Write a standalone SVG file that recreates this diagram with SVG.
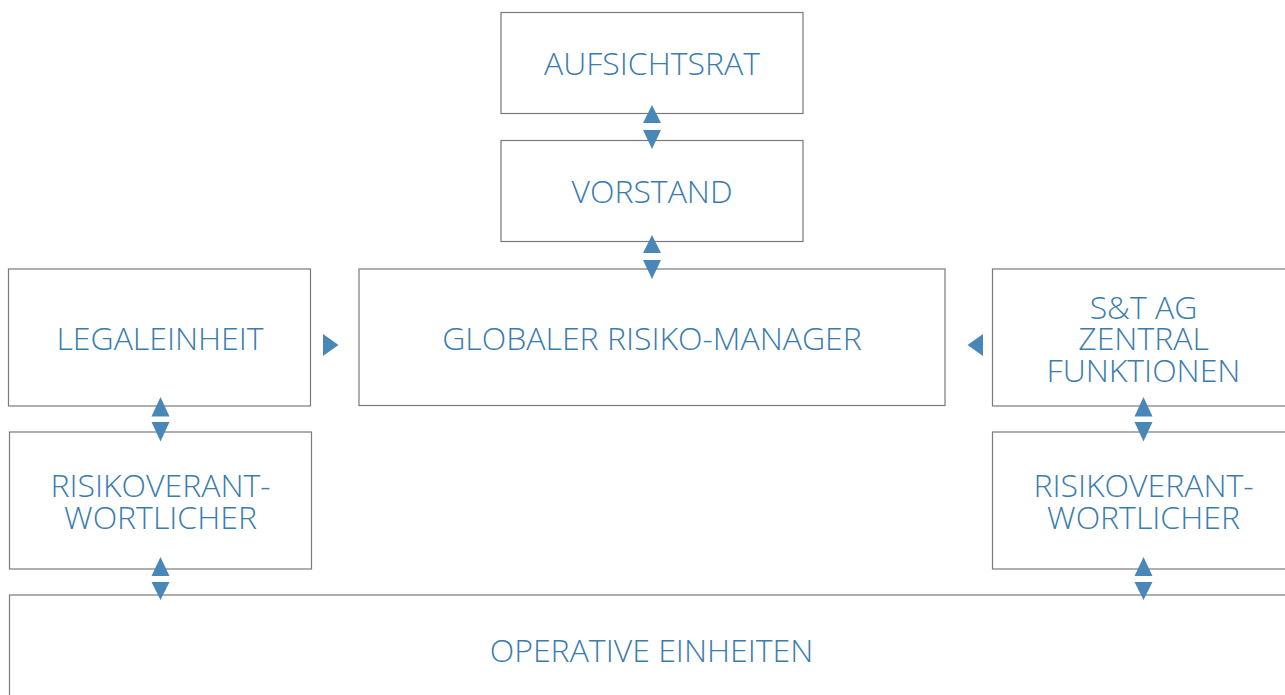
<svg xmlns="http://www.w3.org/2000/svg" width="1285" height="695" viewBox="0 0 1285 695">
<style>
.box{fill:#fff;stroke:#7a7a7a;stroke-width:1.2}
.t{font-family:"Open Sans","Liberation Sans",sans-serif;font-weight:300;font-size:32px;fill:#3a7cae;text-anchor:middle}
.a{fill:#4a87b9}
</style>
<rect width="1285" height="695" fill="#fff"/>
<g id="aufsichtsrat"><rect class="box" x="501" y="12.5" width="302" height="101"/><text class="t" x="652" y="75">AUFSICHTSRAT</text></g>
<g id="vorstand"><rect class="box" x="501" y="140.5" width="302" height="101"/><text class="t" x="652" y="202.5">VORSTAND</text></g>
<g id="global"><rect class="box" x="359" y="269" width="586" height="136.5"/><text class="t" x="652" y="350">GLOBALER RISIKO-MANAGER</text></g>
<g id="legaleinheit"><rect class="box" x="8.5" y="269" width="302" height="137"/><text class="t" x="160" y="350">LEGALEINHEIT</text></g>
<g id="zentral"><rect class="box" x="992.5" y="269" width="300" height="137"/><text class="t" x="1143.5" y="318.5">S&amp;T AG</text><text class="t" x="1143.5" y="350">ZENTRAL</text><text class="t" x="1143.5" y="381.5">FUNKTIONEN</text></g>
<g id="risiko-left"><rect class="box" x="9.5" y="432" width="302" height="137"/><text class="t" x="160.5" y="496.5">RISIKOVERANT-</text><text class="t" x="160.5" y="529">WORTLICHER</text></g>
<g id="risiko-right"><rect class="box" x="992.5" y="432" width="300" height="137"/><text class="t" x="1143.5" y="496.5">RISIKOVERANT-</text><text class="t" x="1143.5" y="529">WORTLICHER</text></g>
<g id="operative"><rect class="box" x="9.5" y="595" width="1290" height="110"/><text class="t" x="651.5" y="662">OPERATIVE EINHEITEN</text></g>
<g id="connectors">
<polygon class="a" points="652,105 661,123 643,123"/><polygon class="a" points="643,130 661,130 652,149"/>
<polygon class="a" points="652,235 661,253 643,253"/><polygon class="a" points="643,260 661,260 652,279"/>
<polygon class="a" points="160.5,397 169.5,416.5 151.5,416.5"/><polygon class="a" points="151.5,422 169.5,422 160.5,441.5"/>
<polygon class="a" points="160.5,557 169.5,576 151.5,576"/><polygon class="a" points="151.5,582 169.5,582 160.5,600"/>
<polygon class="a" points="1143.5,397 1152.5,416.5 1134.5,416.5"/><polygon class="a" points="1134.5,422 1152.5,422 1143.5,441.5"/>
<polygon class="a" points="1143.5,557 1152.5,576 1134.5,576"/><polygon class="a" points="1134.5,582 1152.5,582 1143.5,600"/>
<polygon class="a" points="323,334 338.5,345 323,356"/>
<polygon class="a" points="983,334 967.5,345 983,356"/>
</g>
</svg>
